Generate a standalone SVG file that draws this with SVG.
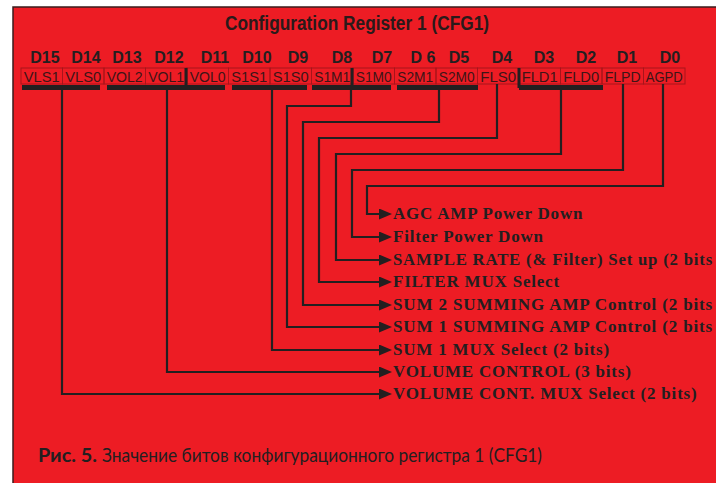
<svg xmlns="http://www.w3.org/2000/svg" width="716" height="483" viewBox="0 0 716 483">
<defs>
<style>
.bg{fill:#ed1c24;stroke:#3a1c1c;stroke-width:1.5}
.title{font-family:"Liberation Sans",Arial,sans-serif;font-size:20px;font-weight:bold;fill:#2a1a1a;text-anchor:middle}
.bit{font-family:"Liberation Sans",Arial,sans-serif;font-size:16px;font-weight:bold;fill:#231f20;text-anchor:middle}
.cell rect{fill:none;stroke:#a8141b;stroke-width:1}
.cell text{font-family:"Liberation Sans",Arial,sans-serif;font-size:15px;fill:#3d1517;text-anchor:middle}
.bar{fill:#231f20}
.sep{stroke:#231f20;stroke-width:3}
.conn path{fill:none;stroke:#231f20;stroke-width:2.2;marker-end:url(#arr)}
.lbl{font-family:"Liberation Serif","Times New Roman",serif;font-size:17px;font-weight:bold;fill:#231f20;letter-spacing:0.8px}
.cap{font-family:Lato,"Noto Sans",sans-serif;font-size:19px;fill:#231f20}
</style>
<marker id="arr" markerUnits="userSpaceOnUse" markerWidth="13" markerHeight="11" refX="0" refY="5.5" orient="auto">
<path d="M0,0 L13,5.5 L0,11 z" fill="#231f20"/>
</marker>
</defs>
<rect class="bg" x="13" y="7" width="705" height="480"/>
<text class="title" x="357" y="30" textLength="264" lengthAdjust="spacingAndGlyphs">Configuration Register 1 (CFG1)</text>

<g id="bits">
<text class="bit" x="45" y="63">D15</text>
<text class="bit" x="86" y="63">D14</text>
<text class="bit" x="127" y="63">D13</text>
<text class="bit" x="169" y="63">D12</text>
<text class="bit" x="215" y="63">D11</text>
<text class="bit" x="257" y="63">D10</text>
<text class="bit" x="298" y="63">D9</text>
<text class="bit" x="342" y="63">D8</text>
<text class="bit" x="382" y="63">D7</text>
<text class="bit" x="423" y="63">D 6</text>
<text class="bit" x="459" y="63">D5</text>
<text class="bit" x="502" y="63">D4</text>
<text class="bit" x="544" y="63">D3</text>
<text class="bit" x="586" y="63">D2</text>
<text class="bit" x="627" y="63">D1</text>
<text class="bit" x="670" y="63">D0</text>
</g>

<g id="cell-VLS1" class="cell"><rect x="21" y="68" width="41.5" height="16"/><text x="41.7" y="81.5" textLength="36" lengthAdjust="spacingAndGlyphs">VLS1</text></g>
<g id="cell-VLS0" class="cell"><rect x="62.5" y="68" width="41.5" height="16"/><text x="83.2" y="81.5" textLength="36" lengthAdjust="spacingAndGlyphs">VLS0</text></g>
<g id="cell-VOL2" class="cell"><rect x="104" y="68" width="41.5" height="16"/><text x="124.7" y="81.5" textLength="36" lengthAdjust="spacingAndGlyphs">VOL2</text></g>
<g id="cell-VOL1" class="cell"><rect x="145.5" y="68" width="41.5" height="16"/><text x="166.2" y="81.5" textLength="36" lengthAdjust="spacingAndGlyphs">VOL1</text></g>
<g id="cell-VOL0" class="cell"><rect x="187" y="68" width="41.5" height="16"/><text x="207.7" y="81.5" textLength="36" lengthAdjust="spacingAndGlyphs">VOL0</text></g>
<g id="cell-S1S1" class="cell"><rect x="228.5" y="68" width="41.5" height="16"/><text x="249.2" y="81.5" textLength="36" lengthAdjust="spacingAndGlyphs">S1S1</text></g>
<g id="cell-S1S0" class="cell"><rect x="270" y="68" width="41.5" height="16"/><text x="290.7" y="81.5" textLength="36" lengthAdjust="spacingAndGlyphs">S1S0</text></g>
<g id="cell-S1M1" class="cell"><rect x="311.5" y="68" width="41.5" height="16"/><text x="332.2" y="81.5" textLength="36" lengthAdjust="spacingAndGlyphs">S1M1</text></g>
<g id="cell-S1M0" class="cell"><rect x="353" y="68" width="41.5" height="16"/><text x="373.7" y="81.5" textLength="36" lengthAdjust="spacingAndGlyphs">S1M0</text></g>
<g id="cell-S2M1" class="cell"><rect x="394.5" y="68" width="41.5" height="16"/><text x="415.2" y="81.5" textLength="36" lengthAdjust="spacingAndGlyphs">S2M1</text></g>
<g id="cell-S2M0" class="cell"><rect x="436" y="68" width="41.5" height="16"/><text x="456.7" y="81.5" textLength="36" lengthAdjust="spacingAndGlyphs">S2M0</text></g>
<g id="cell-FLS0" class="cell"><rect x="477.5" y="68" width="41.5" height="16"/><text x="498.2" y="81.5" textLength="36" lengthAdjust="spacingAndGlyphs">FLS0</text></g>
<g id="cell-FLD1" class="cell"><rect x="519" y="68" width="41.5" height="16"/><text x="539.7" y="81.5" textLength="36" lengthAdjust="spacingAndGlyphs">FLD1</text></g>
<g id="cell-FLD0" class="cell"><rect x="560.5" y="68" width="41.5" height="16"/><text x="581.2" y="81.5" textLength="36" lengthAdjust="spacingAndGlyphs">FLD0</text></g>
<g id="cell-FLPD" class="cell"><rect x="602" y="68" width="41.5" height="16"/><text x="622.7" y="81.5" textLength="36" lengthAdjust="spacingAndGlyphs">FLPD</text></g>
<g id="cell-AGPD" class="cell"><rect x="643.5" y="68" width="41.5" height="16"/><text x="664.2" y="81.5" textLength="37" lengthAdjust="spacingAndGlyphs">AGPD</text></g>

<g id="brackets">
<line class="sep" x1="186" y1="68" x2="186" y2="88"/>
<line class="sep" x1="352" y1="68" x2="352" y2="88"/>
<line class="sep" x1="519" y1="68" x2="519" y2="88"/>
<rect class="bar" x="22" y="85" width="78" height="5"/>
<rect class="bar" x="107" y="85" width="118" height="5"/>
<rect class="bar" x="232" y="85" width="75" height="5"/>
<rect class="bar" x="312" y="85" width="79" height="5"/>
<rect class="bar" x="397" y="85" width="81" height="5"/>
<rect class="bar" x="519" y="85" width="84" height="5"/>
</g>

<g id="connectors" class="conn">
<path d="M62 90 V394 H379"/>
<path d="M167 90 V372 H379"/>
<path d="M272 90 V350 H379"/>
<path d="M351 90 V106 H287 V327 H379"/>
<path d="M439 90 V122 H303 V305 H379"/>
<path d="M497 84 V138 H319 V282 H379"/>
<path d="M561 90 V154 H336 V260 H379"/>
<path d="M623 84 V170 H352 V237 H379"/>
<path d="M663 84 V186 H367 V214 H379"/>
</g>

<g id="lbl-agc"><text class="lbl" x="393" y="219">AGC AMP Power Down</text></g>
<g id="lbl-fpd"><text class="lbl" x="393" y="242">Filter Power Down</text></g>
<g id="lbl-sr"><text class="lbl" x="393" y="265" textLength="320" lengthAdjust="spacingAndGlyphs">SAMPLE RATE (&amp; Filter) Set up (2 bits</text></g>
<g id="lbl-fmux"><text class="lbl" x="393" y="287">FILTER MUX Select</text></g>
<g id="lbl-sum2"><text class="lbl" x="393" y="310" textLength="320" lengthAdjust="spacingAndGlyphs">SUM 2 SUMMING AMP Control (2 bits</text></g>
<g id="lbl-sum1"><text class="lbl" x="393" y="332" textLength="320" lengthAdjust="spacingAndGlyphs">SUM 1 SUMMING AMP Control (2 bits</text></g>
<g id="lbl-s1mux"><text class="lbl" x="393" y="355">SUM 1 MUX Select (2 bits)</text></g>
<g id="lbl-vol"><text class="lbl" x="393" y="377">VOLUME CONTROL (3 bits)</text></g>
<g id="lbl-vmux"><text class="lbl" x="393" y="399">VOLUME CONT. MUX Select (2 bits)</text></g>

<g id="caption">
<text class="cap" x="38" y="462" font-weight="bold" textLength="59" lengthAdjust="spacingAndGlyphs">Рис. 5.</text>
<text class="cap" x="102" y="462" textLength="440" lengthAdjust="spacingAndGlyphs">Значение битов конфигурационного регистра 1 (CFG1)</text>
</g>
</svg>
